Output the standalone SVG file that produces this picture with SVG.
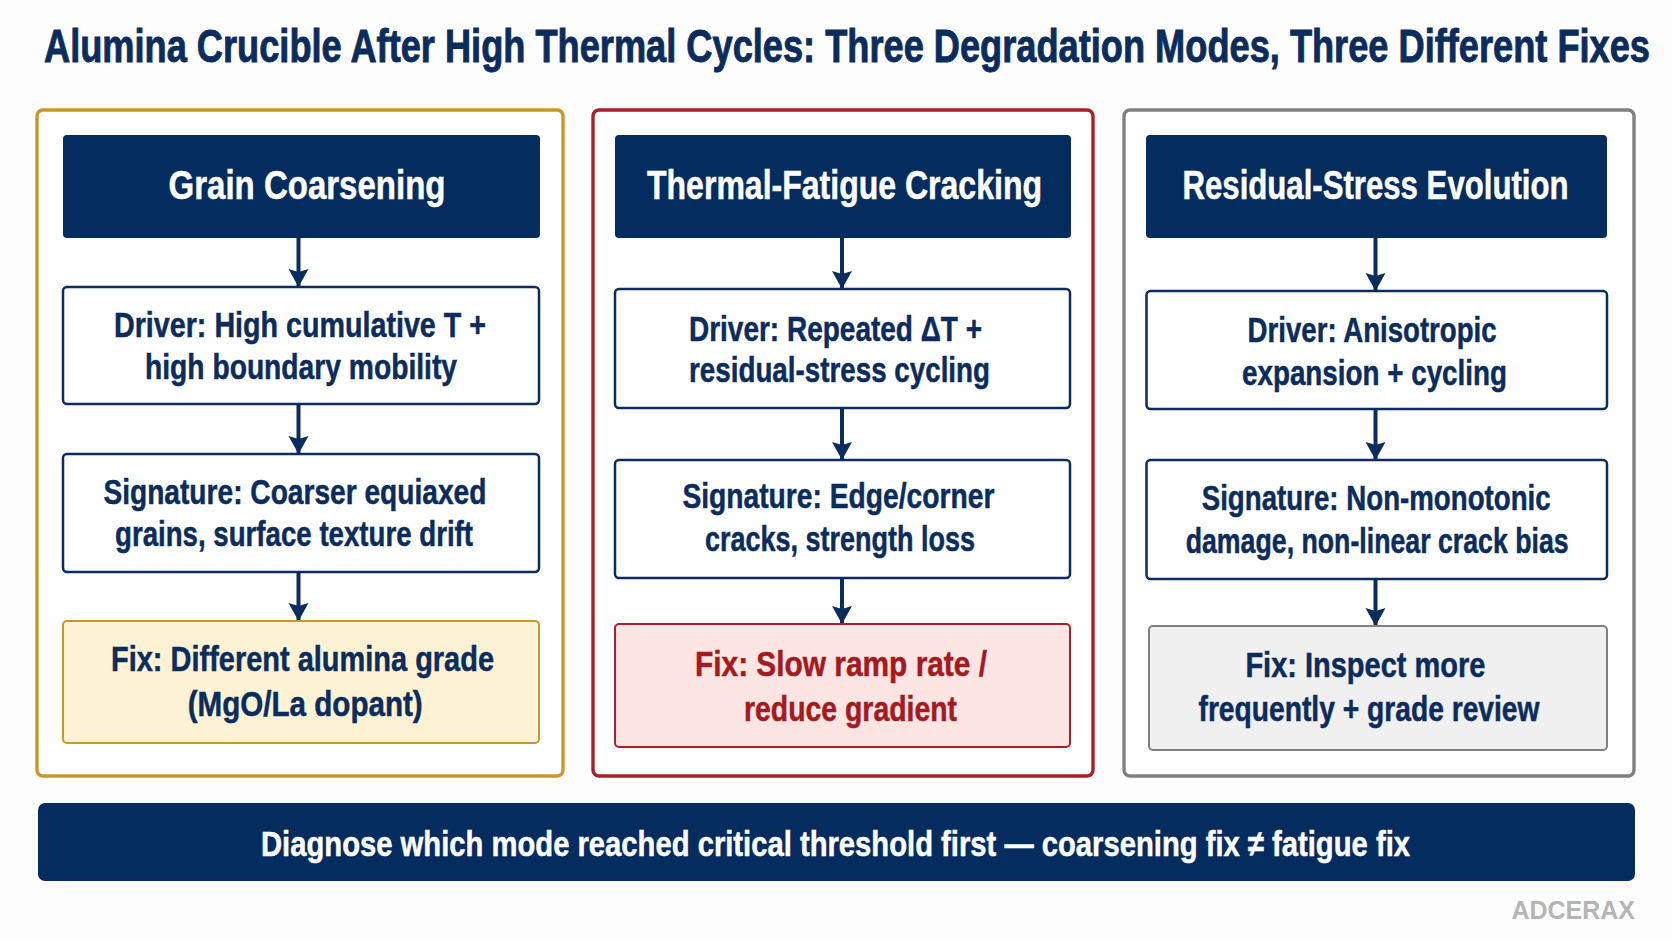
<svg xmlns="http://www.w3.org/2000/svg" width="1672" height="941" viewBox="0 0 1672 941">
<style>
text{font-family:"Liberation Sans",Arial,sans-serif;font-weight:700;fill:#0b2c5c;stroke:#0b2c5c;stroke-width:.45}
.t{font-size:35px;stroke-width:.7}
.h{font-size:35px;fill:#fff;stroke:#fff}
.b{font-size:31px}
.r{fill:#a31a20;stroke:#a31a20}
.bar{font-size:31px;fill:#fff;stroke:#fff}
.w{font-size:25px;fill:#b5b5b5;stroke:none;text-anchor:end}
.navy{fill:#052c5e}
.box{fill:#fff;stroke:#0b2c5c;stroke-width:2.5}
.p{fill:#fff;stroke-width:3.4}
.fix{stroke-width:2}
.c{stroke:#0b2c5c;stroke-width:4;fill:none;marker-end:url(#a)}
</style>
<defs><marker id="a" markerUnits="userSpaceOnUse" markerWidth="20" markerHeight="22" refX="18" refY="11" orient="auto"><path d="M0 1L18 11L0 21L3 11Z" fill="#0b2c5c"/></marker></defs>
<rect width="1672" height="941" fill="#fdfdfd"/>
<text id="title" class="t" transform="translate(44 62) scale(1 1.31)" textLength="1606" lengthAdjust="spacingAndGlyphs">Alumina Crucible After High Thermal Cycles: Three Degradation Modes, Three Different Fixes</text>
<g id="panel-1"><rect class="p" x="37" y="110" width="526" height="666" rx="6" stroke="#c9982a"/></g>
<g id="panel-2"><rect class="p" x="593" y="110" width="500" height="666" rx="6" stroke="#a8202a"/></g>
<g id="panel-3"><rect class="p" x="1124" y="110" width="510" height="666" rx="6" stroke="#808080"/></g>
<g id="connectors">
<path class="c" d="M298.500 238V287"/><path class="c" d="M298.500 404V454"/><path class="c" d="M298.500 572V621"/>
<path class="c" d="M842 238V289"/><path class="c" d="M842 408V460"/><path class="c" d="M842 578V624"/>
<path class="c" d="M1375.500 238V291"/><path class="c" d="M1375.500 409V460"/><path class="c" d="M1375.500 579V626"/>
</g>
<g id="grain-header"><rect class="navy" x="63" y="135" width="477" height="103" rx="4"/><text class="h" transform="translate(168.500 199) scale(1 1.17)" textLength="277" lengthAdjust="spacingAndGlyphs">Grain Coarsening</text></g>
<g id="grain-driver"><rect class="box" x="63" y="287" width="476" height="117" rx="4"/><text class="b" transform="translate(114 337) scale(1 1.13)" textLength="372" lengthAdjust="spacingAndGlyphs">Driver: High cumulative T +</text><text class="b" transform="translate(145 378.500) scale(1 1.13)" textLength="312" lengthAdjust="spacingAndGlyphs">high boundary mobility</text></g>
<g id="grain-signature"><rect class="box" x="63" y="454" width="476" height="118" rx="4"/><text class="b" transform="translate(103.400 504) scale(1 1.13)" textLength="383" lengthAdjust="spacingAndGlyphs">Signature: Coarser equiaxed</text><text class="b" transform="translate(115 546) scale(1 1.13)" textLength="358" lengthAdjust="spacingAndGlyphs">grains, surface texture drift</text></g>
<g id="grain-fix"><rect class="fix" x="63" y="621" width="476" height="122" rx="4" fill="#fdf3d4" stroke="#c9982a"/><text class="b" transform="translate(111 671) scale(1 1.13)" textLength="383" lengthAdjust="spacingAndGlyphs">Fix: Different alumina grade</text><text class="b" transform="translate(187.700 716) scale(1 1.13)" textLength="235" lengthAdjust="spacingAndGlyphs">(MgO/La dopant)</text></g>
<g id="fatigue-header"><rect class="navy" x="615" y="135" width="456" height="103" rx="4"/><text class="h" transform="translate(647 199) scale(1 1.17)" textLength="395" lengthAdjust="spacingAndGlyphs">Thermal-Fatigue Cracking</text></g>
<g id="fatigue-driver"><rect class="box" x="615" y="289" width="455" height="119" rx="4"/><text class="b" transform="translate(689 341) scale(1 1.13)" textLength="293" lengthAdjust="spacingAndGlyphs">Driver: Repeated ΔT +</text><text class="b" transform="translate(689 382) scale(1 1.13)" textLength="301" lengthAdjust="spacingAndGlyphs">residual-stress cycling</text></g>
<g id="fatigue-signature"><rect class="box" x="615" y="460" width="455" height="118" rx="4"/><text class="b" transform="translate(682.400 508) scale(1 1.13)" textLength="312" lengthAdjust="spacingAndGlyphs">Signature: Edge/corner</text><text class="b" transform="translate(705 551) scale(1 1.13)" textLength="270" lengthAdjust="spacingAndGlyphs">cracks, strength loss</text></g>
<g id="fatigue-fix"><rect class="fix" x="615" y="624" width="455" height="123" rx="4" fill="#fde5e4" stroke="#a8202a"/><text class="b r" transform="translate(695 676) scale(1 1.13)" textLength="292" lengthAdjust="spacingAndGlyphs">Fix: Slow ramp rate /</text><text class="b r" transform="translate(744 721) scale(1 1.13)" textLength="213" lengthAdjust="spacingAndGlyphs">reduce gradient</text></g>
<g id="stress-header"><rect class="navy" x="1146" y="135" width="461" height="103" rx="4"/><text class="h" transform="translate(1182.500 199) scale(1 1.17)" textLength="386" lengthAdjust="spacingAndGlyphs">Residual-Stress Evolution</text></g>
<g id="stress-driver"><rect class="box" x="1146.500" y="291" width="460.500" height="118" rx="4"/><text class="b" transform="translate(1247.600 342) scale(1 1.13)" textLength="249" lengthAdjust="spacingAndGlyphs">Driver: Anisotropic</text><text class="b" transform="translate(1242 384.500) scale(1 1.13)" textLength="265" lengthAdjust="spacingAndGlyphs">expansion + cycling</text></g>
<g id="stress-signature"><rect class="box" x="1146.500" y="460" width="460.500" height="119" rx="4"/><text class="b" transform="translate(1201.700 510) scale(1 1.13)" textLength="349" lengthAdjust="spacingAndGlyphs">Signature: Non-monotonic</text><text class="b" transform="translate(1185.700 553.400) scale(1 1.13)" textLength="383" lengthAdjust="spacingAndGlyphs">damage, non-linear crack bias</text></g>
<g id="stress-fix"><rect class="fix" x="1149" y="626" width="458" height="124" rx="4" fill="#f0f0f0" stroke="#808080"/><text class="b" transform="translate(1245.400 676.500) scale(1 1.13)" textLength="240" lengthAdjust="spacingAndGlyphs">Fix: Inspect more</text><text class="b" transform="translate(1198.500 721) scale(1 1.13)" textLength="341" lengthAdjust="spacingAndGlyphs">frequently + grade review</text></g>
<g id="conclusion"><rect class="navy" x="38" y="803" width="1597" height="78" rx="7"/><text class="bar" transform="translate(261 856) scale(1 1.16)" textLength="1149" lengthAdjust="spacingAndGlyphs">Diagnose which mode reached critical threshold first — coarsening fix ≠ fatigue fix</text></g>
<text id="watermark" class="w" x="1635" y="919">ADCERAX</text>
</svg>
